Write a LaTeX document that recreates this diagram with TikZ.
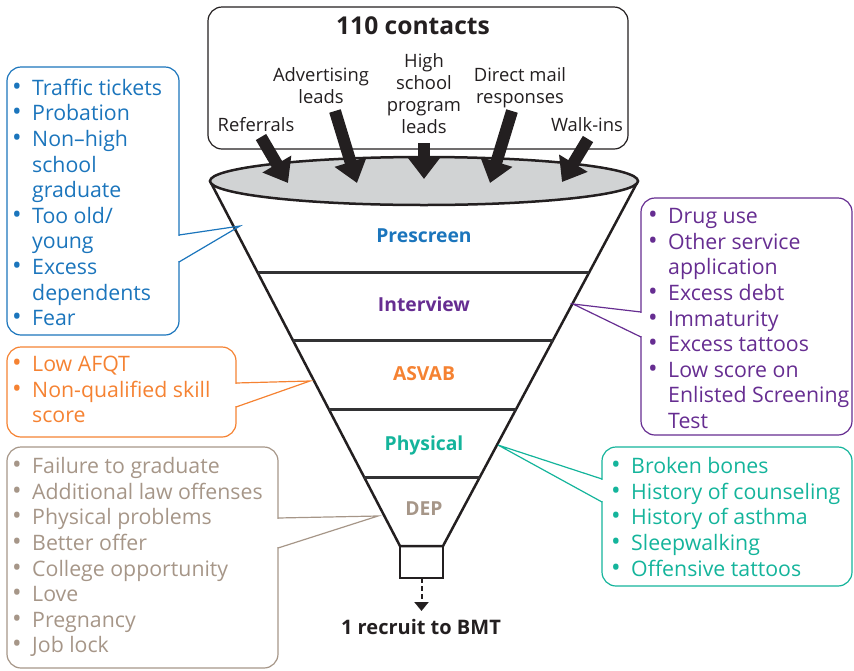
\documentclass[tikz,border=0pt]{standalone}
\usepackage{fontspec}
\setmainfont{Open Sans}
\usetikzlibrary{arrows.meta,shapes.geometric,calc}
\definecolor{cblue}{RGB}{27,117,188}
\definecolor{cpurple}{RGB}{102,45,145}
\definecolor{corange}{RGB}{245,130,50}
\definecolor{cteal}{RGB}{20,180,155}
\definecolor{ctan}{RGB}{166,150,136}
\definecolor{cgray}{RGB}{209,211,212}
\definecolor{cblack}{RGB}{35,31,32}
\definecolor{cdark}{RGB}{50,50,52}
\newcommand{\bl}{\makebox[20pt][l]{\scalebox{1.2}{•}}}
\newcommand{\cn}{\hspace*{20pt}}
\tikzset{
  cbox/.style={draw=#1, line width=1.2pt, rounded corners=14pt, inner sep=0pt, outer sep=0pt, anchor=north west},
  ptr/.style={draw=#1, line width=1.2pt, line join=miter},
  list/.style={text=#1, anchor=north west, inner sep=0pt, align=left, font=\fontsize{21.3}{25.6}\selectfont},
  toplab/.style={text=cblack, anchor=north, inner sep=0pt, align=center, font=\fontsize{18.4}{22}\selectfont},
  stage/.style={text=#1, anchor=base, inner sep=0pt, font=\bfseries\fontsize{19.3}{24}\selectfont},
  fatarrow/.style={line width=12pt, cblack, -{Triangle[width=32pt,length=22pt]}},
  funnelline/.style={line width=2.5pt, cblack, line join=miter}
}
\begin{document}
\begin{tikzpicture}[x=1pt,y=-1pt]
\useasboundingbox (0,0) rectangle (854,670);

% top box
\node[cbox=cblack, minimum width=420, minimum height=142] (topbox) at (208,7) {};
\node[anchor=base, inner sep=0pt, text=cblack, font=\bfseries\fontsize{24.6}{28}\selectfont] (contacts) at (413,34) {110 contacts};
\node[toplab, anchor=base] (ref) at (256,131) {Referrals};
\node[toplab] (adv) at (321,65.6) {\strut Advertising\\leads};
\node[toplab] (hs) at (424,51.6) {\strut High\\school\\program\\leads};
\node[toplab] (dm) at (520,65.6) {\strut Direct mail\\responses};
\node[toplab, anchor=base] (walk) at (587,131) {Walk-ins};

% funnel
\coordinate (bl) at (400,546);
\coordinate (br) at (443,546);
\node[ellipse, draw=none, minimum width=428, minimum height=48, inner sep=0pt, outer sep=0pt] (rimref) at (424,181) {};
\draw[funnelline] (rimref.west) -- (bl) -- (br) -- (rimref.east);
\foreach \t in {0.25,0.4375,0.625,0.8125}
  \draw[line width=3pt, cdark] ($(rimref.west)!\t!(bl)$) -- ($(rimref.east)!\t!(br)$);
\node[ellipse, draw=cblack, fill=cgray, line width=2.5pt, minimum width=428, minimum height=48, inner sep=0pt, outer sep=0pt] (rim) at (424,181) {};
\node[draw=cblack, line width=2.5pt, minimum width=43, minimum height=32, anchor=north west, inner sep=0pt, outer sep=0pt] (cup) at (400,546) {};

% arrows into funnel
\coordinate (a1s) at (261,137); \coordinate (a1e) at (288,183);
\coordinate (a2s) at (335,111); \coordinate (a2e) at (357,183);
\coordinate (a3s) at (424,143); \coordinate (a3e) at (424,179);
\coordinate (a4s) at (512,111); \coordinate (a4e) at (490,183);
\coordinate (a5s) at (588,139); \coordinate (a5e) at (562,182);
\draw[fatarrow] (a1s) -- (a1e);
\draw[fatarrow] (a2s) -- (a2e);
\draw[fatarrow] (a3s) -- (a3e);
\draw[fatarrow] (a4s) -- (a4e);
\draw[fatarrow] (a5s) -- (a5e);

% stage labels
\node[stage=cblue] (pre) at (424,242.5) {Prescreen};
\node[stage=cpurple] (int) at (424,311) {Interview};
\node[stage=corange] (asv) at (424,380) {ASVAB};
\node[stage=cteal] (phy) at (424,450) {Physical};
\node[stage=ctan] (dep) at (424,515) {DEP};

% output
\coordinate (outend) at (421.5,611);
\draw[line width=2pt, cblack, dash pattern=on 5pt off 3pt, -{Triangle[width=14pt,length=9pt]}] (cup.south) -- (outend);
\node[anchor=base, inner sep=0pt, text=cblack, font=\bfseries\fontsize{20}{24}\selectfont] (res) at (421,634) {1 recruit to BMT};

% blue box
\node[cbox=cblue, minimum width=172, minimum height=268] (bbox) at (7,67) {};
\coordinate (btip) at (240,226);
\fill[white] (177,235.6) rectangle (181,261.4);
\draw[ptr=cblue] (179,235) -- (btip) -- (179,262);
\node[list=cblue] (btext) at (12,77.1) {\strut\bl Traffic tickets\\\bl Probation\\\bl Non–high\\\cn school\\\cn graduate\\\bl Too old/\\\cn young\\\bl Excess\\\cn dependents\\\bl Fear};

% orange box
\node[cbox=corange, minimum width=229, minimum height=90] (obox) at (7,347) {};
\coordinate (otip) at (310,381);
\fill[white] (234,383.6) rectangle (238,406.4);
\draw[ptr=corange] (236,383) -- (otip) -- (236,407);
\node[list=corange] (otext) at (12,353.6) {\strut\bl Low AFQT\\\bl Non-qualified skill\\\cn score};

% tan box
\node[cbox=ctan, minimum width=271, minimum height=221] (tbox) at (7,447) {};
\coordinate (ttip) at (378,516);
\fill[white] (276,518.6) rectangle (280,547.4);
\draw[ptr=ctan] (278,518) -- (ttip) -- (278,548);
\node[list=ctan] (ttext) at (12,455.6) {\strut\bl Failure to graduate\\\bl Additional law offenses\\\bl Physical problems\\\bl Better offer\\\bl College opportunity\\\bl Love\\\bl Pregnancy\\\bl Job lock};

% purple box
\node[cbox=cpurple, minimum width=211, minimum height=237] (pbox) at (641,198) {};
\coordinate (ptip) at (573,304);
\fill[white] (639,312.6) rectangle (643,336.4);
\draw[ptr=cpurple] (641,312) -- (ptip) -- (641,337);
\node[list=cpurple] (ptext) at (648,205.6) {\strut\bl Drug use\\\bl Other service\\\cn application\\\bl Excess debt\\\bl Immaturity\\\bl Excess tattoos\\\bl Low score on\\\cn Enlisted Screening\\\cn Test};

% teal box
\node[cbox=cteal, minimum width=250, minimum height=139] (gbox) at (602,447) {};
\coordinate (gtip) at (498,445);
\fill[white] (600,479.6) rectangle (604,501.4);
\draw[ptr=cteal] (602,479) -- (gtip) -- (602,502);
\node[list=cteal] (gtext) at (611,455.6) {\strut\bl Broken bones\\\bl History of counseling\\\bl History of asthma\\\bl Sleepwalking\\\bl Offensive tattoos};
\end{tikzpicture}
\end{document}
